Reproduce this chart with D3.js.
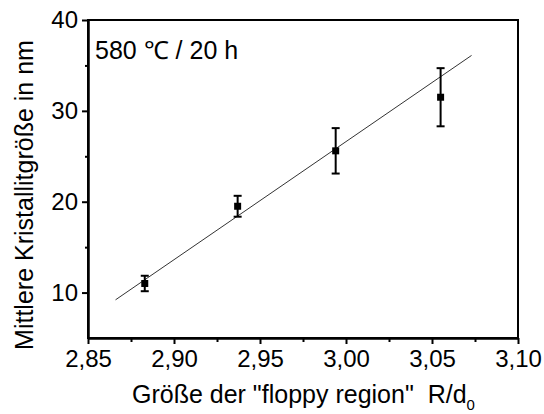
<!DOCTYPE html>
<html>
<head>
<meta charset="utf-8">
<script src="https://cdn.jsdelivr.net/npm/d3@7"></script>
<style>
  body { margin: 0; background: #fff; }
  svg text { font-family: "Liberation Sans", Arial, sans-serif; fill: #000; }
</style>
</head>
<body>
<div id="chart"></div>
<script>
// data
let sizeR = [2.883, 2.937, 2.994, 3.055];
let crystal = [11.0, 19.5, 25.6, 31.5];
let errors = [0.85, 1.15, 2.5, 3.2];
let fitX = [2.866, 3.073];
let fitY = [9.2, 36.1];
let xTicks = [2.85, 2.90, 2.95, 3.00, 3.05, 3.10];
let xMinor = [2.875, 2.925, 2.975, 3.025, 3.075];
let yTicks = [10, 20, 30, 40];
let yMinor = [35, 25, 15];

const drawChart = () => {
    let width = 544;
    let height = 414;
    let left = 88, right = 518, top = 20, bottom = 338;

    let svg = d3.select("#chart")
        .append("svg")
        .attr("width", width)
        .attr("height", height);

    let xScale = d3.scaleLinear().domain([2.85, 3.10]).range([left, right]);
    let yScale = d3.scaleLinear().domain([5, 40]).range([bottom, top]);

    let comma = d => d.toFixed(2).replace(".", ",");

    // frame
    svg.append("rect")
        .attr("x", left).attr("y", top)
        .attr("width", right - left).attr("height", bottom - top)
        .attr("fill", "none").attr("stroke", "#000").attr("stroke-width", 2);

    // x axis
    svg.append("g")
        .attr("transform", "translate(0," + bottom + ")")
        .call(d3.axisBottom(xScale).tickValues(xTicks).tickFormat(comma)
            .tickSize(6).tickSizeOuter(0).tickPadding(6));
    svg.append("g")
        .attr("transform", "translate(0," + bottom + ")")
        .call(d3.axisBottom(xScale).tickValues(xMinor).tickFormat("")
            .tickSize(4).tickSizeOuter(0));

    // y axis
    svg.append("g")
        .attr("transform", "translate(" + left + ",0)")
        .call(d3.axisLeft(yScale).tickValues(yTicks).tickFormat(d3.format("d"))
            .tickSize(6).tickSizeOuter(0).tickPadding(4));
    svg.append("g")
        .attr("transform", "translate(" + left + ",0)")
        .call(d3.axisLeft(yScale).tickValues(yMinor).tickFormat("")
            .tickSize(3).tickSizeOuter(0));

    svg.selectAll(".domain").attr("stroke-width", 2);
    svg.selectAll(".tick line").attr("stroke-width", 2);
    svg.selectAll(".tick text").attr("font-size", "24px")
        .attr("font-family", "Liberation Sans, Arial, sans-serif");

    // fit line
    svg.append("line")
        .attr("x1", xScale(fitX[0])).attr("y1", yScale(fitY[0]))
        .attr("x2", xScale(fitX[1])).attr("y2", yScale(fitY[1]))
        .attr("stroke", "#333").attr("stroke-width", 1);

    let dataset = sizeR.map((x, i) => [x, crystal[i], errors[i]]);

    // error bars
    let bars = svg.append("g").attr("stroke", "#000").attr("stroke-width", 2);
    dataset.forEach(d => {
        let cx = xScale(d[0]);
        let y1 = yScale(d[1] + d[2]);
        let y2 = yScale(d[1] - d[2]);
        bars.append("line").attr("x1", cx).attr("x2", cx).attr("y1", y1).attr("y2", y2);
        bars.append("line").attr("x1", cx - 4).attr("x2", cx + 4).attr("y1", y1).attr("y2", y1);
        bars.append("line").attr("x1", cx - 4).attr("x2", cx + 4).attr("y1", y2).attr("y2", y2);
    });

    svg.selectAll("rect.pt")
        .data(dataset)
        .enter()
        .append("rect")
        .attr("class", "pt")
        .attr("x", d => xScale(d[0]) - 3.5)
        .attr("y", d => yScale(d[1]) - 3.5)
        .attr("width", 7)
        .attr("height", 7)
        .attr("fill", "#000");

    // annotation
    svg.append("text")
        .attr("x", 95)
        .attr("y", 59)
        .attr("font-size", "25px")
        .text("580 \u2103 / 20 h");

    // x label
    let xLabel = svg.append("text")
        .attr("x", 132)
        .attr("y", 403)
        .attr("font-size", "25px")
        .style("white-space", "pre");
    xLabel.append("tspan").text("Gr\u00f6\u00dfe der \"floppy region\"  R/d");
    xLabel.append("tspan").attr("font-size", "15px").attr("dy", 7).text("0");

    // y label
    svg.append("text")
        .attr("transform", "translate(33,195) rotate(-90)")
        .attr("text-anchor", "middle")
        .attr("font-size", "25px")
        .text("Mittlere Kristallitgr\u00f6\u00dfe in nm");
};
drawChart();
</script>
</body>
</html>
